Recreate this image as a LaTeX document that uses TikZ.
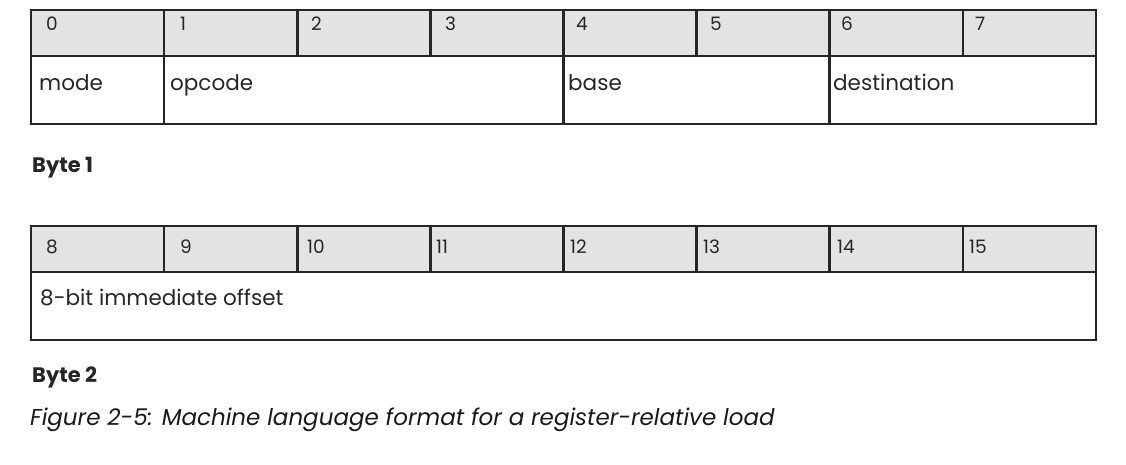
\documentclass[tikz,border=0pt]{standalone}
\usepackage{fontspec}
\setmainfont{Poppins}
\begin{document}
\begin{tikzpicture}[x=1pt,y=-1pt,
  grid/.style={line width=2.6pt,draw=black!85},
  headfill/.style={fill=gray!22},
  bitnum/.style={anchor=base west,inner sep=0pt,font=\fontsize{18.5}{22}\selectfont,text=black!85},
  field/.style={anchor=base west,inner sep=0pt,font=\fontsize{21.5}{25}\selectfont,text=black!85},
  bytelabel/.style={anchor=base west,inner sep=0pt,font=\bfseries\fontsize{21}{25}\selectfont,text=black!85},
  caption/.style={anchor=base west,inner sep=0pt,font=\itshape\fontsize{23}{27}\selectfont,text=black!90}]
\useasboundingbox (0,0) rectangle (1126,464);
\def\cw{133.125}
% ---- byte 1 ----
\fill[headfill] (31,10) rectangle (1096,56);
\draw[grid] (31,10) rectangle (1096,124);
\draw[grid] (31,56) -- (1096,56);
\foreach \i in {1,...,7} \draw[grid] ({31+\i*\cw},10) -- ({31+\i*\cw},56);
\foreach \i in {1,4,6} \draw[grid] ({31+\i*\cw},56) -- ({31+\i*\cw},124);
\node[bitnum] (b0) at (46,30) {0};
\node[bitnum] (b1) at (180,30) {1};
\node[bitnum] (b2) at (311,30) {2};
\node[bitnum] (b3) at (445,30) {3};
\node[bitnum] (b4) at (576,30) {4};
\node[bitnum] (b5) at (710,30) {5};
\node[bitnum] (b6) at (841,30) {6};
\node[bitnum] (b7) at (975,30) {7};
\node[field] (mode) at (39,90) {mode};
\node[field] (opcode) at (170,90) {opcode};
\node[field] (base) at (568,90) {base};
\node[field] (dest) at (833,90) {destination};
\node[bytelabel] (byte1) at (32,172) {Byte 1};
% ---- byte 2 ----
\fill[headfill] (31,226) rectangle (1096,272);
\draw[grid] (31,226) rectangle (1096,340);
\draw[grid] (31,272) -- (1096,272);
\foreach \i in {1,...,7} \draw[grid] ({31+\i*\cw},226) -- ({31+\i*\cw},272);
\node[bitnum] (b8) at (46,253) {8};
\node[bitnum] (b9) at (180,253) {9};
\node[bitnum] (b10) at (307,253) {10};
\node[bitnum] (b11) at (436,253) {11};
\node[bitnum] (b12) at (570,253) {12};
\node[bitnum] (b13) at (703,253) {13};
\node[bitnum] (b14) at (837,253) {14};
\node[bitnum] (b15) at (969,253) {15};
\node[field] (offset) at (40,305) {8-bit immediate offset};
\node[bytelabel] (byte2) at (32,382) {Byte 2};
% ---- caption ----
\node[caption] (cap) at (30,425) {Figure 2-5: Machine language format for a register-relative load};
\end{tikzpicture}
\end{document}
